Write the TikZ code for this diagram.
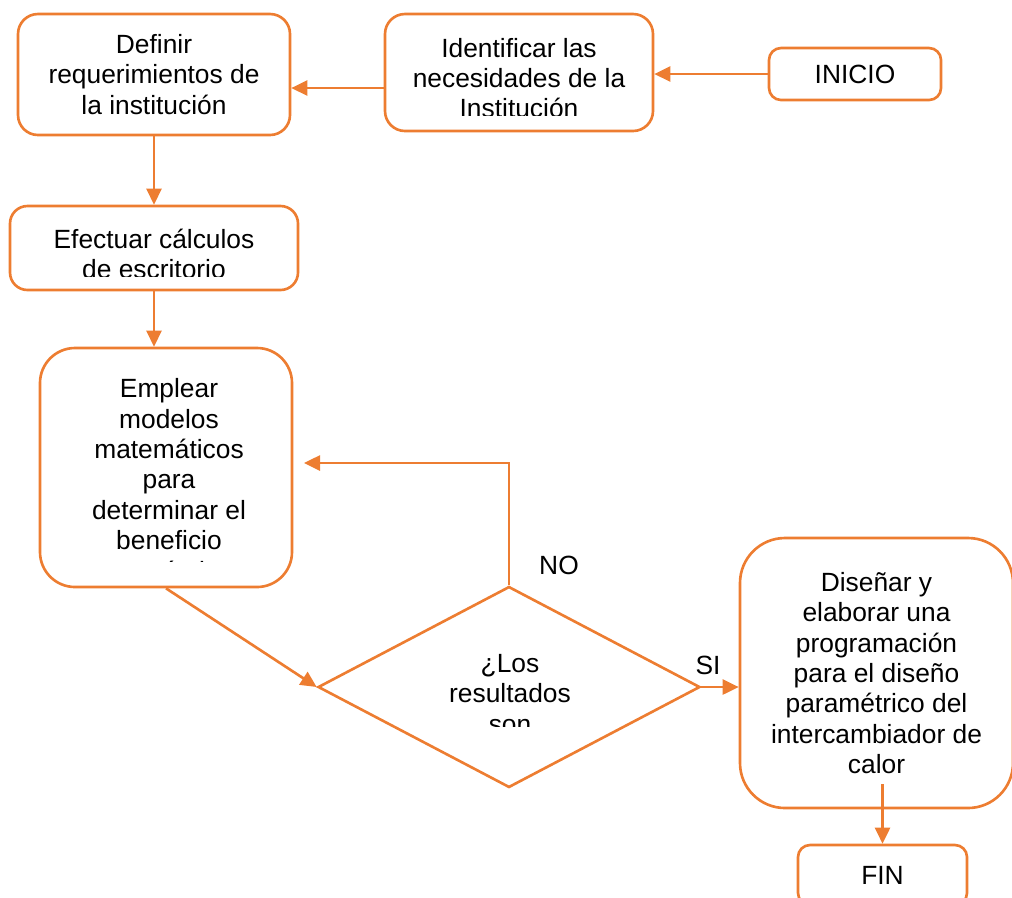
\documentclass[tikz,border=0pt]{standalone}
\usepackage{fontspec}
\setmainfont{Liberation Sans}
\usetikzlibrary{shapes.geometric,arrows.meta}
\definecolor{naranja}{RGB}{237,125,49}

\begin{document}
\begin{tikzpicture}[
 caja/.style={draw=naranja,line width=1.5pt,rounded corners=#1,inner sep=0pt},
 caja/.default=0.4cm,
 texto/.style={align=center,font=\fontsize{15}{17.3}\selectfont,inner sep=0pt},
 flecha/.style={draw=naranja,line width=1.5pt,-{Triangle[length=0.32cm,width=0.3cm]}}]
 \useasboundingbox (0,0) rectangle (20.24,-17.94);

 \node [caja,texto,minimum width=5.44cm,minimum height=2.42cm] (def) at (3.08,-1.49) {Definir\\requerimientos de\\la institución};
 \node [caja,minimum width=5.36cm,minimum height=2.34cm] (ide) at (10.38,-1.45) {};
 \begin{scope}
  \clip (7.70,-0.28) rectangle (13.06,-2.30);
  \node [texto] (ide texto) at (10.38,-1.56) {Identificar las\\necesidades de la\\Institución};
 \end{scope}
 \node [caja=0.24cm,texto,minimum width=3.44cm,minimum height=1.04cm] (ini) at (17.10,-1.48) {INICIO};

 \node [caja=0.35cm,minimum width=5.76cm,minimum height=1.68cm] (efe) at (3.08,-4.96) {};
 \begin{scope}
  \clip (0.20,-4.12) rectangle (5.96,-5.52);
  \node [texto] (efe texto) at (3.08,-5.08) {Efectuar cálculos\\de escritorio};
 \end{scope}

 \node [caja=0.7cm,minimum width=5.04cm,minimum height=4.78cm] (emp) at (3.32,-9.35) {};
 \begin{scope}
  \clip (0.80,-6.96) rectangle (5.84,-11.22);
  \node [texto] (emp texto) at (3.38,-9.59) {Emplear\\modelos\\matemáticos\\para\\determinar el\\beneficio\\económico};
 \end{scope}

 \node [diamond,draw=naranja,line width=1.5pt,inner sep=0pt,minimum width=7.64cm,minimum height=4.02cm] (dia) at (10.18,-13.74) {};
 \begin{scope}
  \clip (7.00,-12.00) rectangle (13.40,-14.52);
  \node [texto] (dia texto) at (10.20,-13.88) {¿Los\\resultados\\son};
 \end{scope}

 \node [caja=0.9cm,texto,minimum width=5.46cm,minimum height=5.4cm] (dis) at (17.53,-13.46) {Diseñar y\\elaborar una\\programación\\para el diseño\\paramétrico del\\intercambiador de\\calor};
 \node [caja=0.24cm,texto,minimum width=3.38cm,minimum height=1.2cm] (fin) at (17.65,-17.50) {FIN};

 \node [texto] (no) at (11.18,-11.30) {NO};
 \node [texto] (si) at (14.16,-13.30) {SI};
 \coordinate (vuelta) at (6.08,-9.26);

 \draw [flecha] (ini.west) -- (ini.west -| ide.east);
 \draw [flecha] ([yshift=-0.31cm]ide.west) -- ([yshift=-0.31cm]ide.west -| def.east);
 \draw [flecha] (def) -- (efe);
 \draw [flecha] (efe.south) -- (efe.south |- emp.north);
 \draw [flecha] (emp.south) -- (dia.west);
 \draw [flecha] (dia.north) |- (vuelta);
 \draw [flecha] (dia.east) -- (dia.east -| dis.west);
 \draw [flecha] ([yshift=0.5cm]fin.north |- dis.south) -- (fin.north);
\end{tikzpicture}
\end{document}
